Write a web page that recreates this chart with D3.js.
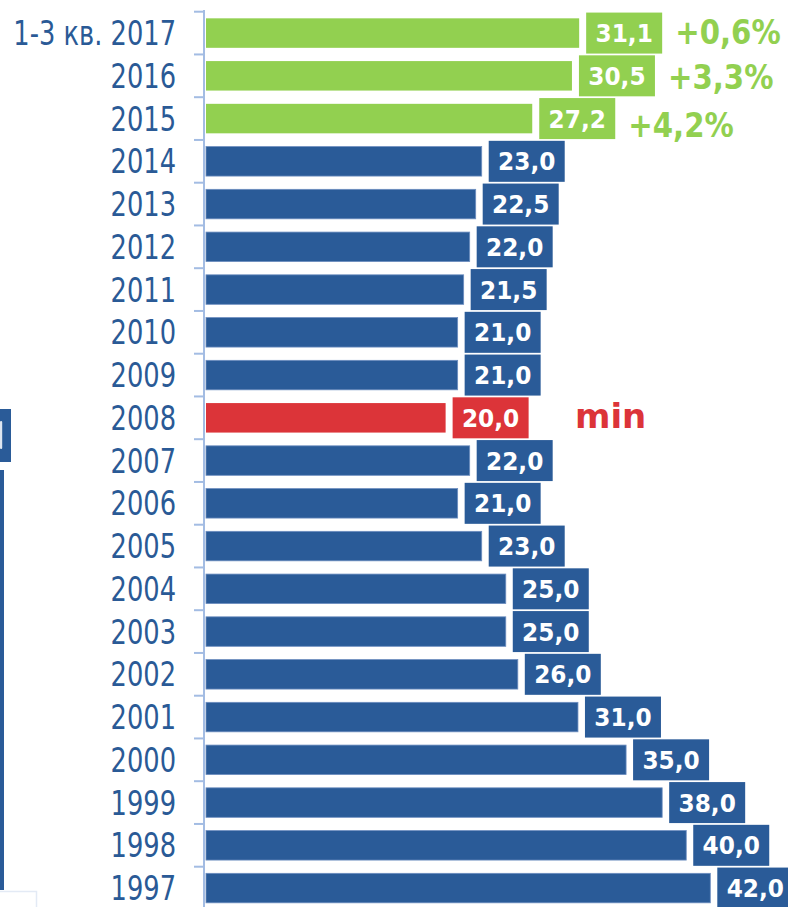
<!DOCTYPE html>
<html><head><meta charset="utf-8">
<script src="https://cdn.jsdelivr.net/npm/d3@7"></script>
<style>html,body{margin:0;padding:0;background:#fff;overflow:hidden}</style>
</head><body>
<svg id="chart" width="788" height="907"></svg>
<script>
const categories = ["1-3 кв. 2017","2016","2015","2014","2013","2012","2011","2010","2009","2008","2007","2006","2005","2004","2003","2002","2001","2000","1999","1998","1997"];
const values = [31.1,30.5,27.2,23.0,22.5,22.0,21.5,21.0,21.0,20.0,22.0,21.0,23.0,25.0,25.0,26.0,31.0,35.0,38.0,40.0,42.0];
const valueLabels = ["31,1","30,5","27,2","23,0","22,5","22,0","21,5","21,0","21,0","20,0","22,0","21,0","23,0","25,0","25,0","26,0","31,0","35,0","38,0","40,0","42,0"];
const growthCategories = ["1-3 кв. 2017","2016","2015"];
const growthLabels = ["+0,6%","+3,3%","+4,2%"];
const minCategory = "2008";
const minLabel = "min";

const BLUE = "#2a5b98", GREEN = "#92d050", RED = "#dc3439", TEXT = "#2a5a96", AXIS = "#a3bce3";
const svg = d3.select("#chart");

const y = d3.scaleBand().domain(categories).range([11.7, 11.7 + 42.75 * categories.length]).padding(0);
const x = d3.scaleLinear().domain([0, 42]).range([205, 710.3]);
const step = y.step();
const barOff = step * 0.155, barH = step * 0.69;
const growthShift = [-2, 1, 6]; // slight vertical staggering of the growth labels, as in the original

function colorOf(c) {
  if (growthCategories.includes(c)) return GREEN;
  if (c === minCategory) return RED;
  return BLUE;
}

// left decorative fragments
svg.append("rect").attr("x", 0).attr("y", 409).attr("width", 11).attr("height", 53).attr("fill", BLUE);
svg.append("rect").attr("x", 0).attr("y", 421).attr("width", 2.2).attr("height", 28).attr("rx", 1).attr("fill", "#ffffff").attr("opacity", 0.85);
svg.append("rect").attr("x", 0).attr("y", 470).attr("width", 4).attr("height", 420).attr("fill", BLUE);
svg.append("path").attr("d", "M0,891.5H36.5V907").attr("fill", "none").attr("stroke", "#e3eaf5").attr("stroke-width", 1.5);

// axis line and ticks
svg.append("line").attr("x1", 204).attr("x2", 204).attr("y1", 10).attr("y2", 907)
  .attr("stroke", AXIS).attr("stroke-width", 2);
const bounds = d3.range(categories.length + 1).map(i => y.range()[0] + i * step);
svg.selectAll(".tick").data(bounds).join("line")
  .attr("x1", 194).attr("x2", 204).attr("y1", d => d).attr("y2", d => d)
  .attr("stroke", AXIS).attr("stroke-width", 2);

// category labels
svg.selectAll(".cat").data(categories).join("text")
  .attr("transform", d => `translate(176,${y(d) + step / 2 + 12}) scale(0.78,1)`)
  .attr("text-anchor", "end")
  .attr("font-family", "DejaVu Sans, Verdana, sans-serif")
  .attr("font-size", 33)
  .attr("fill", TEXT)
  .text(d => d);

// bars
svg.selectAll(".bar").data(categories).join("rect")
  .attr("x", x(0) + 1)
  .attr("y", d => y(d) + barOff)
  .attr("width", (d, i) => x(values[i]) - x(0) - 1)
  .attr("height", barH)
  .attr("fill", d => colorOf(d))
  .attr("stroke", d => colorOf(d) === BLUE ? "#6d8ec0" : "none")
  .attr("stroke-width", 0.8);

// value boxes
const boxW = 76, boxH = 41, gap = 7;
const g = svg.selectAll(".val").data(categories).join("g")
  .attr("transform", (d, i) => `translate(${x(values[i]) + gap},${y(d) + step / 2})`);
g.append("rect").attr("x", 0).attr("y", -boxH / 2).attr("width", boxW).attr("height", boxH)
  .attr("fill", d => colorOf(d));
g.append("text")
  .attr("transform", "translate(38,9) scale(0.93,1)")
  .attr("text-anchor", "middle")
  .attr("font-family", "DejaVu Sans, Verdana, sans-serif")
  .attr("font-weight", "bold")
  .attr("font-size", 25)
  .attr("fill", "#ffffff")
  .text((d, i) => valueLabels[i]);

// growth labels
svg.selectAll(".growth").data(growthCategories).join("text")
  .attr("transform", (d, i) => {
    const idx = categories.indexOf(d);
    return `translate(${x(values[idx]) + gap + boxW + 13},${y(d) + step / 2 + 12.5 + growthShift[i]}) scale(0.86,1)`;
  })
  .attr("font-family", "DejaVu Sans, Verdana, sans-serif")
  .attr("font-weight", "bold")
  .attr("font-size", 34)
  .attr("fill", GREEN)
  .text((d, i) => growthLabels[i]);

// min label
svg.append("text")
  .attr("x", 575).attr("y", y(minCategory) + step / 2 + 10)
  .attr("font-family", "DejaVu Sans, Verdana, sans-serif")
  .attr("font-weight", "bold")
  .attr("font-size", 34)
  .attr("fill", RED)
  .text(minLabel);
</script>
</body></html>
